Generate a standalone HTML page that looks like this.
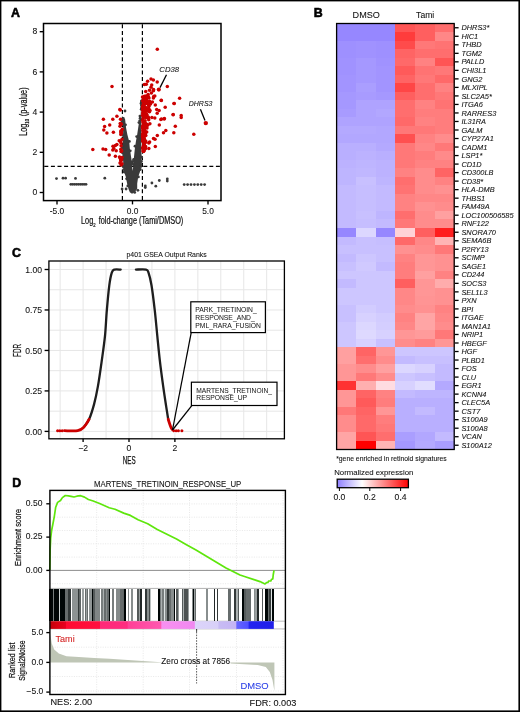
<!DOCTYPE html>
<html><head><meta charset="utf-8"><title>Figure</title>
<style>html,body{margin:0;padding:0;background:#fff;}svg{display:block;filter:blur(0.3px);font-family:"Liberation Sans",sans-serif;}</style>
</head><body>
<svg width="520" height="712" viewBox="0 0 520 712" font-family="Liberation Sans"><rect x="0" y="0" width="520" height="712" fill="#fff"/>
<text x="11.10" y="16.90" font-size="12.4" font-weight="bold" stroke="#000" stroke-width="0.55">A</text>
<g stroke="#000" stroke-width="1.2" stroke-dasharray="4 2.6" fill="none">
<line x1="122.4" y1="24.3" x2="122.4" y2="200"/>
<line x1="142.4" y1="24.3" x2="142.4" y2="200"/>
<line x1="44.3" y1="166.4" x2="220.2" y2="166.4"/>
</g>
<polygon fill="#3a3a3a" points="121.4,119.2 123.2,128 123.1,134.7 122.7,141.5 122.4,148.2 122.4,154.9 123.2,161.6 123.1,166.7 124.1,172.1 125.8,176.8 127.1,183.6 128.5,188.9 129.8,192.3 132,193.8 134.5,192.3 137.2,188.9 137.2,183.6 138.2,176.8 139.9,172.1 140.9,166.7 141.6,161.6 141.6,154.9 140.9,148.2 141.2,141.5 141.2,134.7 140.9,128 141.2,122 141.5,110 142,101 141.3,101 140.7,114 138.9,123 137.2,134.6 135.9,141.5 134.9,148.2 134.2,154.9 133.5,161.6 133.2,166.7 132.6,171 132.2,166.7 131.8,161.6 130.8,154.9 129.8,148.2 129.2,141.5 127.4,134.7 126.1,128 125.1,119.2 123,118"/>
<g fill="#3a3a3a"><circle cx="121.1" cy="119.3" r="1.4"/><circle cx="122.0" cy="122.0" r="1.4"/><circle cx="122.6" cy="124.7" r="1.4"/><circle cx="122.8" cy="130.2" r="1.4"/><circle cx="122.9" cy="134.8" r="1.4"/><circle cx="122.8" cy="145.8" r="1.4"/><circle cx="122.1" cy="148.0" r="1.4"/><circle cx="122.5" cy="152.8" r="1.4"/><circle cx="122.6" cy="159.1" r="1.4"/><circle cx="123.2" cy="166.7" r="1.4"/><circle cx="123.8" cy="169.6" r="1.4"/><circle cx="124.2" cy="172.1" r="1.4"/><circle cx="126.6" cy="178.8" r="1.4"/><circle cx="127.8" cy="185.9" r="1.4"/><circle cx="134.7" cy="192.4" r="1.4"/><circle cx="138.4" cy="176.9" r="1.4"/><circle cx="140.3" cy="169.5" r="1.4"/><circle cx="140.9" cy="166.4" r="1.4"/><circle cx="140.9" cy="164.4" r="1.4"/><circle cx="141.4" cy="161.5" r="1.4"/><circle cx="141.6" cy="157.2" r="1.4"/><circle cx="140.8" cy="148.1" r="1.4"/><circle cx="140.9" cy="141.3" r="1.4"/><circle cx="141.2" cy="139.3" r="1.4"/><circle cx="140.8" cy="136.9" r="1.4"/><circle cx="141.6" cy="119.8" r="1.4"/><circle cx="141.7" cy="107.4" r="1.4"/><circle cx="141.5" cy="105.2" r="1.4"/><circle cx="141.5" cy="102.9" r="1.4"/><circle cx="141.7" cy="100.9" r="1.4"/><circle cx="141.6" cy="101.1" r="1.4"/><circle cx="141.0" cy="103.5" r="1.4"/><circle cx="141.2" cy="109.2" r="1.4"/><circle cx="139.9" cy="116.1" r="1.4"/><circle cx="140.1" cy="118.2" r="1.4"/><circle cx="139.7" cy="120.8" r="1.4"/><circle cx="138.9" cy="122.6" r="1.4"/><circle cx="136.7" cy="136.6" r="1.4"/><circle cx="135.0" cy="146.2" r="1.4"/><circle cx="133.7" cy="159.3" r="1.4"/><circle cx="133.1" cy="161.4" r="1.4"/><circle cx="133.5" cy="164.5" r="1.4"/><circle cx="131.8" cy="163.9" r="1.4"/><circle cx="131.9" cy="161.9" r="1.4"/><circle cx="130.3" cy="150.8" r="1.4"/><circle cx="129.4" cy="141.4" r="1.4"/><circle cx="125.5" cy="124.8" r="1.4"/><circle cx="123.3" cy="118.4" r="1.4"/><circle cx="56.5" cy="178.6" r="1.4"/><circle cx="63.0" cy="178.2" r="1.4"/><circle cx="65.6" cy="178.2" r="1.4"/><circle cx="75.5" cy="178.4" r="1.4"/><circle cx="104.8" cy="178.2" r="1.4"/><circle cx="145.3" cy="185.9" r="1.4"/><circle cx="145.3" cy="187.6" r="1.4"/><circle cx="151.9" cy="183.0" r="1.4"/><circle cx="155.8" cy="186.2" r="1.4"/><circle cx="159.3" cy="180.5" r="1.4"/><circle cx="167.3" cy="178.9" r="1.4"/><circle cx="167.3" cy="181.1" r="1.4"/><circle cx="125.0" cy="111.0" r="1.4"/><circle cx="141.8" cy="101.7" r="1.4"/><circle cx="142.0" cy="106.5" r="1.4"/><circle cx="122.1" cy="189.0" r="1.4"/><circle cx="126.1" cy="189.0" r="1.4"/><circle cx="137.9" cy="190.3" r="1.4"/><circle cx="70.8" cy="184.3" r="1.4"/><circle cx="72.7" cy="184.3" r="1.4"/><circle cx="74.6" cy="184.3" r="1.4"/><circle cx="76.5" cy="184.3" r="1.4"/><circle cx="78.4" cy="184.3" r="1.4"/><circle cx="80.3" cy="184.3" r="1.4"/><circle cx="82.2" cy="184.3" r="1.4"/><circle cx="84.1" cy="184.3" r="1.4"/><circle cx="86.0" cy="184.3" r="1.4"/><circle cx="184.2" cy="184.6" r="1.4"/><circle cx="187.6" cy="184.6" r="1.4"/><circle cx="191.0" cy="184.6" r="1.4"/><circle cx="194.4" cy="184.6" r="1.4"/><circle cx="197.8" cy="184.6" r="1.4"/><circle cx="201.2" cy="184.6" r="1.4"/><circle cx="204.6" cy="184.6" r="1.4"/></g>
<g fill="#cc0000"><circle cx="120.3" cy="110.0" r="1.75"/><circle cx="116.9" cy="116.2" r="1.75"/><circle cx="112.8" cy="119.2" r="1.75"/><circle cx="103.4" cy="119.2" r="1.75"/><circle cx="109.7" cy="125.1" r="1.75"/><circle cx="104.6" cy="126.5" r="1.75"/><circle cx="103.8" cy="130.0" r="1.75"/><circle cx="106.9" cy="133.0" r="1.75"/><circle cx="113.4" cy="132.3" r="1.75"/><circle cx="120.8" cy="123.8" r="1.75"/><circle cx="120.0" cy="126.2" r="1.75"/><circle cx="122.3" cy="129.2" r="1.75"/><circle cx="120.8" cy="134.6" r="1.75"/><circle cx="121.5" cy="133.0" r="1.75"/><circle cx="120.5" cy="141.5" r="1.75"/><circle cx="121.0" cy="143.0" r="1.75"/><circle cx="92.8" cy="149.5" r="1.75"/><circle cx="103.0" cy="149.0" r="1.75"/><circle cx="105.7" cy="149.5" r="1.75"/><circle cx="113.0" cy="146.2" r="1.75"/><circle cx="115.4" cy="145.4" r="1.75"/><circle cx="116.9" cy="144.6" r="1.75"/><circle cx="113.8" cy="148.5" r="1.75"/><circle cx="112.8" cy="150.0" r="1.75"/><circle cx="116.2" cy="150.8" r="1.75"/><circle cx="120.8" cy="149.2" r="1.75"/><circle cx="121.0" cy="151.5" r="1.75"/><circle cx="109.2" cy="155.0" r="1.75"/><circle cx="115.4" cy="156.2" r="1.75"/><circle cx="119.5" cy="157.0" r="1.75"/><circle cx="121.5" cy="159.2" r="1.75"/><circle cx="120.0" cy="163.0" r="1.75"/><circle cx="122.0" cy="163.8" r="1.75"/><circle cx="120.8" cy="160.8" r="1.75"/><circle cx="112.0" cy="86.5" r="1.75"/><circle cx="119.8" cy="109.6" r="1.75"/><circle cx="157.3" cy="49.2" r="1.75"/><circle cx="147.6" cy="81.3" r="1.75"/><circle cx="151.0" cy="79.1" r="1.75"/><circle cx="153.4" cy="80.1" r="1.75"/><circle cx="157.2" cy="82.0" r="1.75"/><circle cx="167.3" cy="86.5" r="1.75"/><circle cx="151.7" cy="84.9" r="1.75"/><circle cx="151.0" cy="87.3" r="1.75"/><circle cx="149.5" cy="90.2" r="1.75"/><circle cx="153.4" cy="90.7" r="1.75"/><circle cx="148.1" cy="94.5" r="1.75"/><circle cx="151.4" cy="93.1" r="1.75"/><circle cx="154.8" cy="96.0" r="1.75"/><circle cx="153.4" cy="97.9" r="1.75"/><circle cx="149.0" cy="97.9" r="1.75"/><circle cx="143.5" cy="99.0" r="1.75"/><circle cx="149.5" cy="101.2" r="1.75"/><circle cx="147.1" cy="101.7" r="1.75"/><circle cx="161.3" cy="100.6" r="1.75"/><circle cx="174.0" cy="103.5" r="1.75"/><circle cx="165.2" cy="107.3" r="1.75"/><circle cx="155.3" cy="105.1" r="1.75"/><circle cx="150.5" cy="104.1" r="1.75"/><circle cx="144.2" cy="105.1" r="1.75"/><circle cx="145.7" cy="107.5" r="1.75"/><circle cx="148.6" cy="108.9" r="1.75"/><circle cx="156.7" cy="109.4" r="1.75"/><circle cx="159.1" cy="110.4" r="1.75"/><circle cx="157.2" cy="113.3" r="1.75"/><circle cx="149.5" cy="111.8" r="1.75"/><circle cx="144.2" cy="110.4" r="1.75"/><circle cx="143.3" cy="113.3" r="1.75"/><circle cx="146.6" cy="114.2" r="1.75"/><circle cx="173.1" cy="114.7" r="1.75"/><circle cx="144.2" cy="117.1" r="1.75"/><circle cx="148.1" cy="117.1" r="1.75"/><circle cx="151.9" cy="117.6" r="1.75"/><circle cx="154.8" cy="118.1" r="1.75"/><circle cx="161.5" cy="119.0" r="1.75"/><circle cx="164.4" cy="118.6" r="1.75"/><circle cx="179.6" cy="98.2" r="1.75"/><circle cx="161.2" cy="100.3" r="1.75"/><circle cx="174.2" cy="103.4" r="1.75"/><circle cx="181.2" cy="115.4" r="1.75"/><circle cx="181.2" cy="117.4" r="1.75"/><circle cx="173.2" cy="114.6" r="1.75"/><circle cx="193.8" cy="134.2" r="1.75"/><circle cx="175.3" cy="126.2" r="1.75"/><circle cx="173.8" cy="132.8" r="1.75"/><circle cx="165.8" cy="130.5" r="1.75"/><circle cx="163.5" cy="132.8" r="1.75"/><circle cx="159.3" cy="125.1" r="1.75"/><circle cx="160.8" cy="119.5" r="1.75"/><circle cx="164.2" cy="118.9" r="1.75"/><circle cx="157.3" cy="135.4" r="1.75"/><circle cx="153.5" cy="138.5" r="1.75"/><circle cx="155.0" cy="139.2" r="1.75"/><circle cx="149.6" cy="142.0" r="1.75"/><circle cx="148.8" cy="143.0" r="1.75"/><circle cx="155.3" cy="146.6" r="1.75"/><circle cx="148.8" cy="148.5" r="1.75"/><circle cx="143.5" cy="147.0" r="1.75"/><circle cx="143.5" cy="150.0" r="1.75"/><circle cx="144.2" cy="132.8" r="1.75"/><circle cx="146.3" cy="103.3" r="1.75"/><circle cx="148.3" cy="96.8" r="1.75"/><circle cx="143.2" cy="125.5" r="1.75"/><circle cx="145.3" cy="148.3" r="1.75"/><circle cx="144.0" cy="142.3" r="1.75"/><circle cx="142.5" cy="107.8" r="1.75"/><circle cx="145.4" cy="109.5" r="1.75"/><circle cx="142.7" cy="128.8" r="1.75"/><circle cx="146.4" cy="103.3" r="1.75"/><circle cx="143.5" cy="147.0" r="1.75"/><circle cx="144.7" cy="128.7" r="1.75"/><circle cx="145.6" cy="146.6" r="1.75"/><circle cx="145.4" cy="124.1" r="1.75"/><circle cx="143.0" cy="125.8" r="1.75"/><circle cx="142.6" cy="120.6" r="1.75"/><circle cx="148.9" cy="106.3" r="1.75"/><circle cx="142.7" cy="105.7" r="1.75"/><circle cx="143.0" cy="122.5" r="1.75"/><circle cx="146.5" cy="114.3" r="1.75"/><circle cx="146.9" cy="125.0" r="1.75"/><circle cx="144.8" cy="101.9" r="1.75"/><circle cx="142.5" cy="127.4" r="1.75"/><circle cx="144.1" cy="139.2" r="1.75"/><circle cx="146.7" cy="124.4" r="1.75"/><circle cx="143.5" cy="147.1" r="1.75"/><circle cx="145.1" cy="120.8" r="1.75"/><circle cx="144.6" cy="124.7" r="1.75"/><circle cx="145.0" cy="134.8" r="1.75"/><circle cx="143.5" cy="122.8" r="1.75"/><circle cx="143.4" cy="148.7" r="1.75"/><circle cx="145.3" cy="148.8" r="1.75"/><circle cx="150.0" cy="110.5" r="1.75"/><circle cx="144.0" cy="143.0" r="1.75"/><circle cx="145.4" cy="103.7" r="1.75"/><circle cx="145.4" cy="100.1" r="1.75"/><circle cx="147.1" cy="109.5" r="1.75"/><circle cx="143.8" cy="139.9" r="1.75"/><circle cx="143.9" cy="146.2" r="1.75"/><circle cx="145.4" cy="133.0" r="1.75"/><circle cx="149.7" cy="104.0" r="1.75"/><circle cx="148.6" cy="108.3" r="1.75"/><circle cx="143.8" cy="149.3" r="1.75"/><circle cx="143.4" cy="151.4" r="1.75"/><circle cx="143.5" cy="142.6" r="1.75"/><circle cx="144.9" cy="124.9" r="1.75"/><circle cx="143.4" cy="115.0" r="1.75"/><circle cx="144.2" cy="136.4" r="1.75"/><circle cx="146.6" cy="97.1" r="1.75"/><circle cx="144.0" cy="97.0" r="1.75"/><circle cx="145.2" cy="114.6" r="1.75"/><circle cx="145.8" cy="99.6" r="1.75"/><circle cx="143.4" cy="151.2" r="1.75"/><circle cx="152.4" cy="101.9" r="1.75"/><circle cx="148.2" cy="110.9" r="1.75"/><circle cx="143.9" cy="111.1" r="1.75"/><circle cx="149.8" cy="103.3" r="1.75"/><circle cx="144.4" cy="141.9" r="1.75"/><circle cx="147.0" cy="110.5" r="1.75"/><circle cx="147.0" cy="128.0" r="1.75"/><circle cx="143.1" cy="135.2" r="1.75"/><circle cx="142.9" cy="134.5" r="1.75"/><circle cx="148.7" cy="119.8" r="1.75"/><circle cx="144.9" cy="131.5" r="1.75"/><circle cx="145.7" cy="140.9" r="1.75"/><circle cx="146.4" cy="99.7" r="1.75"/><circle cx="144.0" cy="144.3" r="1.75"/><circle cx="143.2" cy="127.0" r="1.75"/><circle cx="142.6" cy="147.9" r="1.75"/><circle cx="143.9" cy="125.5" r="1.75"/><circle cx="144.1" cy="109.4" r="1.75"/><circle cx="144.0" cy="98.8" r="1.75"/><circle cx="143.6" cy="107.3" r="1.75"/><circle cx="144.1" cy="138.5" r="1.75"/><circle cx="144.6" cy="112.2" r="1.75"/><circle cx="142.5" cy="115.4" r="1.75"/><circle cx="142.5" cy="97.0" r="1.75"/><circle cx="142.9" cy="137.1" r="1.75"/><circle cx="143.6" cy="126.9" r="1.75"/><circle cx="144.1" cy="148.3" r="1.75"/><circle cx="144.2" cy="102.0" r="1.75"/><circle cx="145.1" cy="123.7" r="1.75"/><circle cx="144.1" cy="142.7" r="1.75"/><circle cx="144.1" cy="134.5" r="1.75"/><circle cx="143.9" cy="151.0" r="1.75"/><circle cx="145.8" cy="135.6" r="1.75"/><circle cx="144.3" cy="131.6" r="1.75"/><circle cx="144.6" cy="99.0" r="1.75"/><circle cx="148.0" cy="103.3" r="1.75"/><circle cx="144.9" cy="110.3" r="1.75"/><circle cx="148.5" cy="105.1" r="1.75"/><circle cx="144.1" cy="144.8" r="1.75"/><circle cx="142.8" cy="133.6" r="1.75"/><circle cx="144.9" cy="112.4" r="1.75"/><circle cx="144.2" cy="121.7" r="1.75"/><circle cx="145.6" cy="110.7" r="1.75"/><circle cx="144.2" cy="149.9" r="1.75"/><circle cx="143.2" cy="109.7" r="1.75"/><circle cx="143.0" cy="150.1" r="1.75"/><circle cx="146.1" cy="96.1" r="1.75"/><circle cx="146.0" cy="117.4" r="1.75"/><circle cx="143.2" cy="107.3" r="1.75"/><circle cx="144.6" cy="124.3" r="1.75"/><circle cx="142.6" cy="101.0" r="1.75"/><circle cx="143.1" cy="118.4" r="1.75"/><circle cx="142.7" cy="113.0" r="1.75"/><circle cx="146.1" cy="109.0" r="1.75"/><circle cx="143.8" cy="138.0" r="1.75"/><circle cx="143.5" cy="132.8" r="1.75"/><circle cx="148.5" cy="117.8" r="1.75"/><circle cx="144.3" cy="114.3" r="1.75"/><circle cx="142.6" cy="136.6" r="1.75"/><circle cx="146.7" cy="132.0" r="1.75"/><circle cx="143.3" cy="145.9" r="1.75"/><circle cx="142.9" cy="131.1" r="1.75"/><circle cx="149.3" cy="103.8" r="1.75"/><circle cx="147.5" cy="125.3" r="1.75"/><circle cx="142.6" cy="141.1" r="1.75"/><circle cx="145.8" cy="142.3" r="1.75"/><circle cx="144.8" cy="134.2" r="1.75"/><circle cx="142.6" cy="134.8" r="1.75"/><circle cx="143.4" cy="103.5" r="1.75"/><circle cx="147.1" cy="116.2" r="1.75"/><circle cx="145.5" cy="127.3" r="1.75"/><circle cx="145.0" cy="131.2" r="1.75"/><circle cx="145.4" cy="123.4" r="1.75"/><circle cx="144.5" cy="96.2" r="1.75"/><circle cx="146.8" cy="124.2" r="1.75"/><circle cx="143.0" cy="126.0" r="1.75"/><circle cx="143.1" cy="137.3" r="1.75"/><circle cx="144.9" cy="110.1" r="1.75"/><circle cx="143.2" cy="136.8" r="1.75"/><circle cx="143.1" cy="107.5" r="1.75"/><circle cx="149.9" cy="123.7" r="1.75"/><circle cx="147.1" cy="117.4" r="1.75"/><circle cx="142.9" cy="139.0" r="1.75"/><circle cx="143.1" cy="130.6" r="1.75"/><circle cx="143.7" cy="104.3" r="1.75"/><circle cx="142.6" cy="110.2" r="1.75"/><circle cx="144.6" cy="127.8" r="1.75"/><circle cx="146.3" cy="84.3" r="1.75"/><circle cx="144.3" cy="102.8" r="1.75"/><circle cx="144.7" cy="103.4" r="1.75"/><circle cx="146.3" cy="98.5" r="1.75"/><circle cx="145.2" cy="97.0" r="1.75"/><circle cx="143.5" cy="109.0" r="1.75"/><circle cx="153.5" cy="89.6" r="1.75"/><circle cx="144.4" cy="84.5" r="1.75"/><circle cx="148.0" cy="96.9" r="1.75"/><circle cx="153.7" cy="96.6" r="1.75"/><circle cx="145.7" cy="91.5" r="1.75"/><circle cx="153.5" cy="89.9" r="1.75"/><circle cx="146.4" cy="100.3" r="1.75"/><circle cx="147.3" cy="110.7" r="1.75"/><circle cx="121.3" cy="124.2" r="1.75"/><circle cx="120.6" cy="159.7" r="1.75"/><circle cx="121.7" cy="151.1" r="1.75"/><circle cx="119.2" cy="140.8" r="1.75"/><circle cx="120.5" cy="119.2" r="1.75"/><circle cx="122.0" cy="139.2" r="1.75"/><circle cx="121.2" cy="132.2" r="1.75"/><circle cx="121.1" cy="132.9" r="1.75"/><circle cx="119.8" cy="157.5" r="1.75"/><circle cx="122.0" cy="157.4" r="1.75"/><circle cx="120.2" cy="123.6" r="1.75"/><circle cx="121.1" cy="160.4" r="1.75"/><circle cx="121.1" cy="131.6" r="1.75"/><circle cx="121.1" cy="164.9" r="1.75"/><circle cx="121.1" cy="145.7" r="1.75"/><circle cx="120.9" cy="130.9" r="1.75"/></g>
<circle cx="158.8" cy="89.6" r="2.1" fill="#cc0000"/>
<circle cx="205.8" cy="123.1" r="2.2" fill="#cc0000"/>
<text x="159.30" y="72.20" font-size="7.8" font-style="italic" fill="#111" stroke="#111" stroke-width="0.08" textLength="19.8" lengthAdjust="spacingAndGlyphs">CD38</text>
<line x1="166.5" y1="74.8" x2="160" y2="87.6" stroke="#000" stroke-width="1.3"/>
<text x="188.80" y="106.20" font-size="7.8" font-style="italic" fill="#111" stroke="#111" stroke-width="0.08" textLength="23.6" lengthAdjust="spacingAndGlyphs">DHRS3</text>
<line x1="200.4" y1="109.3" x2="205" y2="120.4" stroke="#000" stroke-width="1.3"/>
<rect x="43.5" y="23.5" width="177.5" height="177.1" fill="none" stroke="#000" stroke-width="1.5"/>
<line x1="39.7" y1="192.5" x2="43.5" y2="192.5" stroke="#000" stroke-width="1.35"/>
<text x="37.20" y="195.10" font-size="8.6" text-anchor="end" fill="#111" stroke="#111" stroke-width="0.08">0</text>
<line x1="39.7" y1="152.3" x2="43.5" y2="152.3" stroke="#000" stroke-width="1.35"/>
<text x="37.20" y="154.90" font-size="8.6" text-anchor="end" fill="#111" stroke="#111" stroke-width="0.08">2</text>
<line x1="39.7" y1="112.1" x2="43.5" y2="112.1" stroke="#000" stroke-width="1.35"/>
<text x="37.20" y="114.70" font-size="8.6" text-anchor="end" fill="#111" stroke="#111" stroke-width="0.08">4</text>
<line x1="39.7" y1="71.9" x2="43.5" y2="71.9" stroke="#000" stroke-width="1.35"/>
<text x="37.20" y="74.50" font-size="8.6" text-anchor="end" fill="#111" stroke="#111" stroke-width="0.08">6</text>
<line x1="39.7" y1="31.7" x2="43.5" y2="31.7" stroke="#000" stroke-width="1.35"/>
<text x="37.20" y="34.30" font-size="8.6" text-anchor="end" fill="#111" stroke="#111" stroke-width="0.08">8</text>
<line x1="57.0" y1="200.5" x2="57.0" y2="204.4" stroke="#000" stroke-width="1.35"/>
<text x="57.00" y="213.60" font-size="8.4" text-anchor="middle" fill="#111" stroke="#111" stroke-width="0.08">-5.0</text>
<line x1="132.5" y1="200.5" x2="132.5" y2="204.4" stroke="#000" stroke-width="1.35"/>
<text x="132.50" y="213.60" font-size="8.4" text-anchor="middle" fill="#111" stroke="#111" stroke-width="0.08">0.0</text>
<line x1="208.0" y1="200.5" x2="208.0" y2="204.4" stroke="#000" stroke-width="1.35"/>
<text x="208.00" y="213.60" font-size="8.4" text-anchor="middle" fill="#111" stroke="#111" stroke-width="0.08">5.0</text>
<text x="81" y="224.0" font-size="10" fill="#111" stroke="#111" stroke-width="0.22" textLength="102.3" lengthAdjust="spacingAndGlyphs">Log<tspan font-size="5.8" dy="2.6">2</tspan><tspan dy="-2.6" dx="1.5"> fold-change (Tami/DMSO)</tspan></text>
<text transform="translate(26.8,135.8) rotate(-90)" x="0" y="0" font-size="10" fill="#111" stroke="#111" stroke-width="0.22" textLength="48.4" lengthAdjust="spacingAndGlyphs">Log<tspan font-size="5.8" dy="2.2">10</tspan><tspan dy="-2.2" dx="1"> (p-value)</tspan></text>
<text x="313.80" y="17.10" font-size="12.4" font-weight="bold" stroke="#000" stroke-width="0.55">B</text>
<text x="366.20" y="18.20" font-size="8.8" text-anchor="middle" fill="#111" stroke="#111" stroke-width="0.08" textLength="27.2" lengthAdjust="spacingAndGlyphs">DMSO</text>
<text x="425.20" y="18.20" font-size="8.8" text-anchor="middle" fill="#111" stroke="#111" stroke-width="0.08" textLength="18.2" lengthAdjust="spacingAndGlyphs">Tami</text>
<line x1="454.2" y1="27.76" x2="458.59999999999997" y2="27.76" stroke="#000" stroke-width="1.3"/>
<text x="461.40" y="30.41" font-size="7.4" font-style="italic" fill="#111" stroke="#111" stroke-width="0.08">DHRS3*</text>
<line x1="454.2" y1="36.28" x2="458.59999999999997" y2="36.28" stroke="#000" stroke-width="1.3"/>
<text x="461.40" y="38.93" font-size="7.4" font-style="italic" fill="#111" stroke="#111" stroke-width="0.08">HIC1</text>
<line x1="454.2" y1="44.80" x2="458.59999999999997" y2="44.80" stroke="#000" stroke-width="1.3"/>
<text x="461.40" y="47.45" font-size="7.4" font-style="italic" fill="#111" stroke="#111" stroke-width="0.08">THBD</text>
<line x1="454.2" y1="53.32" x2="458.59999999999997" y2="53.32" stroke="#000" stroke-width="1.3"/>
<text x="461.40" y="55.97" font-size="7.4" font-style="italic" fill="#111" stroke="#111" stroke-width="0.08">TGM2</text>
<line x1="454.2" y1="61.84" x2="458.59999999999997" y2="61.84" stroke="#000" stroke-width="1.3"/>
<text x="461.40" y="64.49" font-size="7.4" font-style="italic" fill="#111" stroke="#111" stroke-width="0.08">PALLD</text>
<line x1="454.2" y1="70.36" x2="458.59999999999997" y2="70.36" stroke="#000" stroke-width="1.3"/>
<text x="461.40" y="73.01" font-size="7.4" font-style="italic" fill="#111" stroke="#111" stroke-width="0.08">CHI3L1</text>
<line x1="454.2" y1="78.88" x2="458.59999999999997" y2="78.88" stroke="#000" stroke-width="1.3"/>
<text x="461.40" y="81.53" font-size="7.4" font-style="italic" fill="#111" stroke="#111" stroke-width="0.08">GNG2</text>
<line x1="454.2" y1="87.40" x2="458.59999999999997" y2="87.40" stroke="#000" stroke-width="1.3"/>
<text x="461.40" y="90.05" font-size="7.4" font-style="italic" fill="#111" stroke="#111" stroke-width="0.08">MLXIPL</text>
<line x1="454.2" y1="95.92" x2="458.59999999999997" y2="95.92" stroke="#000" stroke-width="1.3"/>
<text x="461.40" y="98.57" font-size="7.4" font-style="italic" fill="#111" stroke="#111" stroke-width="0.08">SLC2A5*</text>
<line x1="454.2" y1="104.44" x2="458.59999999999997" y2="104.44" stroke="#000" stroke-width="1.3"/>
<text x="461.40" y="107.09" font-size="7.4" font-style="italic" fill="#111" stroke="#111" stroke-width="0.08">ITGA6</text>
<line x1="454.2" y1="112.96" x2="458.59999999999997" y2="112.96" stroke="#000" stroke-width="1.3"/>
<text x="461.40" y="115.61" font-size="7.4" font-style="italic" fill="#111" stroke="#111" stroke-width="0.08">RARRES3</text>
<line x1="454.2" y1="121.48" x2="458.59999999999997" y2="121.48" stroke="#000" stroke-width="1.3"/>
<text x="461.40" y="124.13" font-size="7.4" font-style="italic" fill="#111" stroke="#111" stroke-width="0.08">IL31RA</text>
<line x1="454.2" y1="130.00" x2="458.59999999999997" y2="130.00" stroke="#000" stroke-width="1.3"/>
<text x="461.40" y="132.65" font-size="7.4" font-style="italic" fill="#111" stroke="#111" stroke-width="0.08">GALM</text>
<line x1="454.2" y1="138.52" x2="458.59999999999997" y2="138.52" stroke="#000" stroke-width="1.3"/>
<text x="461.40" y="141.17" font-size="7.4" font-style="italic" fill="#111" stroke="#111" stroke-width="0.08">CYP27A1</text>
<line x1="454.2" y1="147.04" x2="458.59999999999997" y2="147.04" stroke="#000" stroke-width="1.3"/>
<text x="461.40" y="149.69" font-size="7.4" font-style="italic" fill="#111" stroke="#111" stroke-width="0.08">CADM1</text>
<line x1="454.2" y1="155.56" x2="458.59999999999997" y2="155.56" stroke="#000" stroke-width="1.3"/>
<text x="461.40" y="158.21" font-size="7.4" font-style="italic" fill="#111" stroke="#111" stroke-width="0.08">LSP1*</text>
<line x1="454.2" y1="164.08" x2="458.59999999999997" y2="164.08" stroke="#000" stroke-width="1.3"/>
<text x="461.40" y="166.73" font-size="7.4" font-style="italic" fill="#111" stroke="#111" stroke-width="0.08">CD1D</text>
<line x1="454.2" y1="172.60" x2="458.59999999999997" y2="172.60" stroke="#000" stroke-width="1.3"/>
<text x="461.40" y="175.25" font-size="7.4" font-style="italic" fill="#111" stroke="#111" stroke-width="0.08">CD300LB</text>
<line x1="454.2" y1="181.12" x2="458.59999999999997" y2="181.12" stroke="#000" stroke-width="1.3"/>
<text x="461.40" y="183.77" font-size="7.4" font-style="italic" fill="#111" stroke="#111" stroke-width="0.08">CD38*</text>
<line x1="454.2" y1="189.64" x2="458.59999999999997" y2="189.64" stroke="#000" stroke-width="1.3"/>
<text x="461.40" y="192.29" font-size="7.4" font-style="italic" fill="#111" stroke="#111" stroke-width="0.08">HLA-DMB</text>
<line x1="454.2" y1="198.16" x2="458.59999999999997" y2="198.16" stroke="#000" stroke-width="1.3"/>
<text x="461.40" y="200.81" font-size="7.4" font-style="italic" fill="#111" stroke="#111" stroke-width="0.08">THBS1</text>
<line x1="454.2" y1="206.68" x2="458.59999999999997" y2="206.68" stroke="#000" stroke-width="1.3"/>
<text x="461.40" y="209.33" font-size="7.4" font-style="italic" fill="#111" stroke="#111" stroke-width="0.08">FAM49A</text>
<line x1="454.2" y1="215.20" x2="458.59999999999997" y2="215.20" stroke="#000" stroke-width="1.3"/>
<text x="461.40" y="217.85" font-size="7.4" font-style="italic" fill="#111" stroke="#111" stroke-width="0.08">LOC100506585</text>
<line x1="454.2" y1="223.72" x2="458.59999999999997" y2="223.72" stroke="#000" stroke-width="1.3"/>
<text x="461.40" y="226.37" font-size="7.4" font-style="italic" fill="#111" stroke="#111" stroke-width="0.08">RNF122</text>
<line x1="454.2" y1="232.24" x2="458.59999999999997" y2="232.24" stroke="#000" stroke-width="1.3"/>
<text x="461.40" y="234.89" font-size="7.4" font-style="italic" fill="#111" stroke="#111" stroke-width="0.08">SNORA70</text>
<line x1="454.2" y1="240.76" x2="458.59999999999997" y2="240.76" stroke="#000" stroke-width="1.3"/>
<text x="461.40" y="243.41" font-size="7.4" font-style="italic" fill="#111" stroke="#111" stroke-width="0.08">SEMA6B</text>
<line x1="454.2" y1="249.28" x2="458.59999999999997" y2="249.28" stroke="#000" stroke-width="1.3"/>
<text x="461.40" y="251.93" font-size="7.4" font-style="italic" fill="#111" stroke="#111" stroke-width="0.08">P2RY13</text>
<line x1="454.2" y1="257.80" x2="458.59999999999997" y2="257.80" stroke="#000" stroke-width="1.3"/>
<text x="461.40" y="260.45" font-size="7.4" font-style="italic" fill="#111" stroke="#111" stroke-width="0.08">SCIMP</text>
<line x1="454.2" y1="266.32" x2="458.59999999999997" y2="266.32" stroke="#000" stroke-width="1.3"/>
<text x="461.40" y="268.97" font-size="7.4" font-style="italic" fill="#111" stroke="#111" stroke-width="0.08">SAGE1</text>
<line x1="454.2" y1="274.84" x2="458.59999999999997" y2="274.84" stroke="#000" stroke-width="1.3"/>
<text x="461.40" y="277.49" font-size="7.4" font-style="italic" fill="#111" stroke="#111" stroke-width="0.08">CD244</text>
<line x1="454.2" y1="283.36" x2="458.59999999999997" y2="283.36" stroke="#000" stroke-width="1.3"/>
<text x="461.40" y="286.01" font-size="7.4" font-style="italic" fill="#111" stroke="#111" stroke-width="0.08">SOCS3</text>
<line x1="454.2" y1="291.88" x2="458.59999999999997" y2="291.88" stroke="#000" stroke-width="1.3"/>
<text x="461.40" y="294.53" font-size="7.4" font-style="italic" fill="#111" stroke="#111" stroke-width="0.08">SEL1L3</text>
<line x1="454.2" y1="300.40" x2="458.59999999999997" y2="300.40" stroke="#000" stroke-width="1.3"/>
<text x="461.40" y="303.05" font-size="7.4" font-style="italic" fill="#111" stroke="#111" stroke-width="0.08">PXN</text>
<line x1="454.2" y1="308.92" x2="458.59999999999997" y2="308.92" stroke="#000" stroke-width="1.3"/>
<text x="461.40" y="311.57" font-size="7.4" font-style="italic" fill="#111" stroke="#111" stroke-width="0.08">BPI</text>
<line x1="454.2" y1="317.44" x2="458.59999999999997" y2="317.44" stroke="#000" stroke-width="1.3"/>
<text x="461.40" y="320.09" font-size="7.4" font-style="italic" fill="#111" stroke="#111" stroke-width="0.08">ITGAE</text>
<line x1="454.2" y1="325.96" x2="458.59999999999997" y2="325.96" stroke="#000" stroke-width="1.3"/>
<text x="461.40" y="328.61" font-size="7.4" font-style="italic" fill="#111" stroke="#111" stroke-width="0.08">MAN1A1</text>
<line x1="454.2" y1="334.48" x2="458.59999999999997" y2="334.48" stroke="#000" stroke-width="1.3"/>
<text x="461.40" y="337.13" font-size="7.4" font-style="italic" fill="#111" stroke="#111" stroke-width="0.08">NRIP1</text>
<line x1="454.2" y1="343.00" x2="458.59999999999997" y2="343.00" stroke="#000" stroke-width="1.3"/>
<text x="461.40" y="345.65" font-size="7.4" font-style="italic" fill="#111" stroke="#111" stroke-width="0.08">HBEGF</text>
<line x1="454.2" y1="351.52" x2="458.59999999999997" y2="351.52" stroke="#000" stroke-width="1.3"/>
<text x="461.40" y="354.17" font-size="7.4" font-style="italic" fill="#111" stroke="#111" stroke-width="0.08">HGF</text>
<line x1="454.2" y1="360.04" x2="458.59999999999997" y2="360.04" stroke="#000" stroke-width="1.3"/>
<text x="461.40" y="362.69" font-size="7.4" font-style="italic" fill="#111" stroke="#111" stroke-width="0.08">PLBD1</text>
<line x1="454.2" y1="368.56" x2="458.59999999999997" y2="368.56" stroke="#000" stroke-width="1.3"/>
<text x="461.40" y="371.21" font-size="7.4" font-style="italic" fill="#111" stroke="#111" stroke-width="0.08">FOS</text>
<line x1="454.2" y1="377.08" x2="458.59999999999997" y2="377.08" stroke="#000" stroke-width="1.3"/>
<text x="461.40" y="379.73" font-size="7.4" font-style="italic" fill="#111" stroke="#111" stroke-width="0.08">CLU</text>
<line x1="454.2" y1="385.60" x2="458.59999999999997" y2="385.60" stroke="#000" stroke-width="1.3"/>
<text x="461.40" y="388.25" font-size="7.4" font-style="italic" fill="#111" stroke="#111" stroke-width="0.08">EGR1</text>
<line x1="454.2" y1="394.12" x2="458.59999999999997" y2="394.12" stroke="#000" stroke-width="1.3"/>
<text x="461.40" y="396.77" font-size="7.4" font-style="italic" fill="#111" stroke="#111" stroke-width="0.08">KCNN4</text>
<line x1="454.2" y1="402.64" x2="458.59999999999997" y2="402.64" stroke="#000" stroke-width="1.3"/>
<text x="461.40" y="405.29" font-size="7.4" font-style="italic" fill="#111" stroke="#111" stroke-width="0.08">CLEC5A</text>
<line x1="454.2" y1="411.16" x2="458.59999999999997" y2="411.16" stroke="#000" stroke-width="1.3"/>
<text x="461.40" y="413.81" font-size="7.4" font-style="italic" fill="#111" stroke="#111" stroke-width="0.08">CST7</text>
<line x1="454.2" y1="419.68" x2="458.59999999999997" y2="419.68" stroke="#000" stroke-width="1.3"/>
<text x="461.40" y="422.33" font-size="7.4" font-style="italic" fill="#111" stroke="#111" stroke-width="0.08">S100A9</text>
<line x1="454.2" y1="428.20" x2="458.59999999999997" y2="428.20" stroke="#000" stroke-width="1.3"/>
<text x="461.40" y="430.85" font-size="7.4" font-style="italic" fill="#111" stroke="#111" stroke-width="0.08">S100A8</text>
<line x1="454.2" y1="436.72" x2="458.59999999999997" y2="436.72" stroke="#000" stroke-width="1.3"/>
<text x="461.40" y="439.37" font-size="7.4" font-style="italic" fill="#111" stroke="#111" stroke-width="0.08">VCAN</text>
<line x1="454.2" y1="445.24" x2="458.59999999999997" y2="445.24" stroke="#000" stroke-width="1.3"/>
<text x="461.40" y="447.89" font-size="7.4" font-style="italic" fill="#111" stroke="#111" stroke-width="0.08">S100A12</text>
<g shape-rendering="crispEdges"><rect x="336.60" y="23.50" width="19.90" height="8.82" fill="rgb(150,135,255)"/><rect x="356.20" y="23.50" width="19.90" height="8.82" fill="rgb(150,135,255)"/><rect x="375.80" y="23.50" width="19.90" height="8.82" fill="rgb(150,135,255)"/><rect x="395.40" y="23.50" width="19.90" height="8.82" fill="rgb(255,85,85)"/><rect x="415.00" y="23.50" width="19.90" height="8.82" fill="rgb(255,95,95)"/><rect x="434.60" y="23.50" width="19.90" height="8.82" fill="rgb(255,110,110)"/><rect x="336.60" y="32.02" width="19.90" height="8.82" fill="rgb(150,135,255)"/><rect x="356.20" y="32.02" width="19.90" height="8.82" fill="rgb(150,135,255)"/><rect x="375.80" y="32.02" width="19.90" height="8.82" fill="rgb(150,135,255)"/><rect x="395.40" y="32.02" width="19.90" height="8.82" fill="rgb(255,60,60)"/><rect x="415.00" y="32.02" width="19.90" height="8.82" fill="rgb(255,95,95)"/><rect x="434.60" y="32.02" width="19.90" height="8.82" fill="rgb(255,135,135)"/><rect x="336.60" y="40.54" width="19.90" height="8.82" fill="rgb(158,144,255)"/><rect x="356.20" y="40.54" width="19.90" height="8.82" fill="rgb(160,146,255)"/><rect x="375.80" y="40.54" width="19.90" height="8.82" fill="rgb(158,144,255)"/><rect x="395.40" y="40.54" width="19.90" height="8.82" fill="rgb(255,75,75)"/><rect x="415.00" y="40.54" width="19.90" height="8.82" fill="rgb(255,120,120)"/><rect x="434.60" y="40.54" width="19.90" height="8.82" fill="rgb(255,115,115)"/><rect x="336.60" y="49.06" width="19.90" height="8.82" fill="rgb(158,144,255)"/><rect x="356.20" y="49.06" width="19.90" height="8.82" fill="rgb(160,146,255)"/><rect x="375.80" y="49.06" width="19.90" height="8.82" fill="rgb(158,144,255)"/><rect x="395.40" y="49.06" width="19.90" height="8.82" fill="rgb(255,100,100)"/><rect x="415.00" y="49.06" width="19.90" height="8.82" fill="rgb(255,110,110)"/><rect x="434.60" y="49.06" width="19.90" height="8.82" fill="rgb(255,110,110)"/><rect x="336.60" y="57.58" width="19.90" height="8.82" fill="rgb(160,146,255)"/><rect x="356.20" y="57.58" width="19.90" height="8.82" fill="rgb(165,152,255)"/><rect x="375.80" y="57.58" width="19.90" height="8.82" fill="rgb(160,146,255)"/><rect x="395.40" y="57.58" width="19.90" height="8.82" fill="rgb(255,105,105)"/><rect x="415.00" y="57.58" width="19.90" height="8.82" fill="rgb(255,130,130)"/><rect x="434.60" y="57.58" width="19.90" height="8.82" fill="rgb(255,85,85)"/><rect x="336.60" y="66.10" width="19.90" height="8.82" fill="rgb(160,146,255)"/><rect x="356.20" y="66.10" width="19.90" height="8.82" fill="rgb(165,152,255)"/><rect x="375.80" y="66.10" width="19.90" height="8.82" fill="rgb(162,148,255)"/><rect x="395.40" y="66.10" width="19.90" height="8.82" fill="rgb(255,90,90)"/><rect x="415.00" y="66.10" width="19.90" height="8.82" fill="rgb(255,115,115)"/><rect x="434.60" y="66.10" width="19.90" height="8.82" fill="rgb(255,120,120)"/><rect x="336.60" y="74.62" width="19.90" height="8.82" fill="rgb(162,148,255)"/><rect x="356.20" y="74.62" width="19.90" height="8.82" fill="rgb(165,152,255)"/><rect x="375.80" y="74.62" width="19.90" height="8.82" fill="rgb(162,148,255)"/><rect x="395.40" y="74.62" width="19.90" height="8.82" fill="rgb(255,100,100)"/><rect x="415.00" y="74.62" width="19.90" height="8.82" fill="rgb(255,120,120)"/><rect x="434.60" y="74.62" width="19.90" height="8.82" fill="rgb(255,105,105)"/><rect x="336.60" y="83.14" width="19.90" height="8.82" fill="rgb(162,148,255)"/><rect x="356.20" y="83.14" width="19.90" height="8.82" fill="rgb(170,158,255)"/><rect x="375.80" y="83.14" width="19.90" height="8.82" fill="rgb(162,148,255)"/><rect x="395.40" y="83.14" width="19.90" height="8.82" fill="rgb(255,70,70)"/><rect x="415.00" y="83.14" width="19.90" height="8.82" fill="rgb(255,110,110)"/><rect x="434.60" y="83.14" width="19.90" height="8.82" fill="rgb(255,130,130)"/><rect x="336.60" y="91.66" width="19.90" height="8.82" fill="rgb(165,152,255)"/><rect x="356.20" y="91.66" width="19.90" height="8.82" fill="rgb(168,155,255)"/><rect x="375.80" y="91.66" width="19.90" height="8.82" fill="rgb(165,152,255)"/><rect x="395.40" y="91.66" width="19.90" height="8.82" fill="rgb(255,95,95)"/><rect x="415.00" y="91.66" width="19.90" height="8.82" fill="rgb(255,110,110)"/><rect x="434.60" y="91.66" width="19.90" height="8.82" fill="rgb(255,120,120)"/><rect x="336.60" y="100.18" width="19.90" height="8.82" fill="rgb(165,152,255)"/><rect x="356.20" y="100.18" width="19.90" height="8.82" fill="rgb(175,163,255)"/><rect x="375.80" y="100.18" width="19.90" height="8.82" fill="rgb(175,163,255)"/><rect x="395.40" y="100.18" width="19.90" height="8.82" fill="rgb(255,110,110)"/><rect x="415.00" y="100.18" width="19.90" height="8.82" fill="rgb(255,130,130)"/><rect x="434.60" y="100.18" width="19.90" height="8.82" fill="rgb(255,115,115)"/><rect x="336.60" y="108.70" width="19.90" height="8.82" fill="rgb(168,155,255)"/><rect x="356.20" y="108.70" width="19.90" height="8.82" fill="rgb(175,163,255)"/><rect x="375.80" y="108.70" width="19.90" height="8.82" fill="rgb(178,167,255)"/><rect x="395.40" y="108.70" width="19.90" height="8.82" fill="rgb(255,110,110)"/><rect x="415.00" y="108.70" width="19.90" height="8.82" fill="rgb(255,125,125)"/><rect x="434.60" y="108.70" width="19.90" height="8.82" fill="rgb(255,125,125)"/><rect x="336.60" y="117.22" width="19.90" height="8.82" fill="rgb(175,163,255)"/><rect x="356.20" y="117.22" width="19.90" height="8.82" fill="rgb(175,163,255)"/><rect x="375.80" y="117.22" width="19.90" height="8.82" fill="rgb(175,163,255)"/><rect x="395.40" y="117.22" width="19.90" height="8.82" fill="rgb(255,105,105)"/><rect x="415.00" y="117.22" width="19.90" height="8.82" fill="rgb(255,130,130)"/><rect x="434.60" y="117.22" width="19.90" height="8.82" fill="rgb(255,125,125)"/><rect x="336.60" y="125.74" width="19.90" height="8.82" fill="rgb(180,169,255)"/><rect x="356.20" y="125.74" width="19.90" height="8.82" fill="rgb(180,169,255)"/><rect x="375.80" y="125.74" width="19.90" height="8.82" fill="rgb(178,167,255)"/><rect x="395.40" y="125.74" width="19.90" height="8.82" fill="rgb(255,120,120)"/><rect x="415.00" y="125.74" width="19.90" height="8.82" fill="rgb(255,120,120)"/><rect x="434.60" y="125.74" width="19.90" height="8.82" fill="rgb(255,125,125)"/><rect x="336.60" y="134.26" width="19.90" height="8.82" fill="rgb(178,167,255)"/><rect x="356.20" y="134.26" width="19.90" height="8.82" fill="rgb(178,167,255)"/><rect x="375.80" y="134.26" width="19.90" height="8.82" fill="rgb(178,167,255)"/><rect x="395.40" y="134.26" width="19.90" height="8.82" fill="rgb(255,80,80)"/><rect x="415.00" y="134.26" width="19.90" height="8.82" fill="rgb(255,130,130)"/><rect x="434.60" y="134.26" width="19.90" height="8.82" fill="rgb(255,140,140)"/><rect x="336.60" y="142.78" width="19.90" height="8.82" fill="rgb(185,175,255)"/><rect x="356.20" y="142.78" width="19.90" height="8.82" fill="rgb(185,175,255)"/><rect x="375.80" y="142.78" width="19.90" height="8.82" fill="rgb(180,169,255)"/><rect x="395.40" y="142.78" width="19.90" height="8.82" fill="rgb(255,120,120)"/><rect x="415.00" y="142.78" width="19.90" height="8.82" fill="rgb(255,135,135)"/><rect x="434.60" y="142.78" width="19.90" height="8.82" fill="rgb(255,120,120)"/><rect x="336.60" y="151.30" width="19.90" height="8.82" fill="rgb(185,175,255)"/><rect x="356.20" y="151.30" width="19.90" height="8.82" fill="rgb(188,178,255)"/><rect x="375.80" y="151.30" width="19.90" height="8.82" fill="rgb(185,175,255)"/><rect x="395.40" y="151.30" width="19.90" height="8.82" fill="rgb(255,120,120)"/><rect x="415.00" y="151.30" width="19.90" height="8.82" fill="rgb(255,125,125)"/><rect x="434.60" y="151.30" width="19.90" height="8.82" fill="rgb(255,138,138)"/><rect x="336.60" y="159.82" width="19.90" height="8.82" fill="rgb(188,178,255)"/><rect x="356.20" y="159.82" width="19.90" height="8.82" fill="rgb(190,181,255)"/><rect x="375.80" y="159.82" width="19.90" height="8.82" fill="rgb(188,178,255)"/><rect x="395.40" y="159.82" width="19.90" height="8.82" fill="rgb(255,120,120)"/><rect x="415.00" y="159.82" width="19.90" height="8.82" fill="rgb(255,130,130)"/><rect x="434.60" y="159.82" width="19.90" height="8.82" fill="rgb(255,130,130)"/><rect x="336.60" y="168.34" width="19.90" height="8.82" fill="rgb(190,181,255)"/><rect x="356.20" y="168.34" width="19.90" height="8.82" fill="rgb(192,183,255)"/><rect x="375.80" y="168.34" width="19.90" height="8.82" fill="rgb(188,178,255)"/><rect x="395.40" y="168.34" width="19.90" height="8.82" fill="rgb(255,130,130)"/><rect x="415.00" y="168.34" width="19.90" height="8.82" fill="rgb(255,140,140)"/><rect x="434.60" y="168.34" width="19.90" height="8.82" fill="rgb(255,100,100)"/><rect x="336.60" y="176.86" width="19.90" height="8.82" fill="rgb(190,181,255)"/><rect x="356.20" y="176.86" width="19.90" height="8.82" fill="rgb(200,192,255)"/><rect x="375.80" y="176.86" width="19.90" height="8.82" fill="rgb(190,181,255)"/><rect x="395.40" y="176.86" width="19.90" height="8.82" fill="rgb(255,110,110)"/><rect x="415.00" y="176.86" width="19.90" height="8.82" fill="rgb(255,140,140)"/><rect x="434.60" y="176.86" width="19.90" height="8.82" fill="rgb(255,130,130)"/><rect x="336.60" y="185.38" width="19.90" height="8.82" fill="rgb(195,186,255)"/><rect x="356.20" y="185.38" width="19.90" height="8.82" fill="rgb(198,190,255)"/><rect x="375.80" y="185.38" width="19.90" height="8.82" fill="rgb(195,186,255)"/><rect x="395.40" y="185.38" width="19.90" height="8.82" fill="rgb(255,115,115)"/><rect x="415.00" y="185.38" width="19.90" height="8.82" fill="rgb(255,140,140)"/><rect x="434.60" y="185.38" width="19.90" height="8.82" fill="rgb(255,145,145)"/><rect x="336.60" y="193.90" width="19.90" height="8.82" fill="rgb(195,186,255)"/><rect x="356.20" y="193.90" width="19.90" height="8.82" fill="rgb(198,190,255)"/><rect x="375.80" y="193.90" width="19.90" height="8.82" fill="rgb(195,186,255)"/><rect x="395.40" y="193.90" width="19.90" height="8.82" fill="rgb(255,130,130)"/><rect x="415.00" y="193.90" width="19.90" height="8.82" fill="rgb(255,135,135)"/><rect x="434.60" y="193.90" width="19.90" height="8.82" fill="rgb(255,135,135)"/><rect x="336.60" y="202.42" width="19.90" height="8.82" fill="rgb(195,186,255)"/><rect x="356.20" y="202.42" width="19.90" height="8.82" fill="rgb(198,190,255)"/><rect x="375.80" y="202.42" width="19.90" height="8.82" fill="rgb(195,186,255)"/><rect x="395.40" y="202.42" width="19.90" height="8.82" fill="rgb(255,130,130)"/><rect x="415.00" y="202.42" width="19.90" height="8.82" fill="rgb(255,145,145)"/><rect x="434.60" y="202.42" width="19.90" height="8.82" fill="rgb(255,140,140)"/><rect x="336.60" y="210.94" width="19.90" height="8.82" fill="rgb(195,186,255)"/><rect x="356.20" y="210.94" width="19.90" height="8.82" fill="rgb(200,192,255)"/><rect x="375.80" y="210.94" width="19.90" height="8.82" fill="rgb(190,181,255)"/><rect x="395.40" y="210.94" width="19.90" height="8.82" fill="rgb(255,110,110)"/><rect x="415.00" y="210.94" width="19.90" height="8.82" fill="rgb(255,140,140)"/><rect x="434.60" y="210.94" width="19.90" height="8.82" fill="rgb(255,160,160)"/><rect x="336.60" y="219.46" width="19.90" height="8.82" fill="rgb(195,186,255)"/><rect x="356.20" y="219.46" width="19.90" height="8.82" fill="rgb(198,190,255)"/><rect x="375.80" y="219.46" width="19.90" height="8.82" fill="rgb(195,186,255)"/><rect x="395.40" y="219.46" width="19.90" height="8.82" fill="rgb(255,120,120)"/><rect x="415.00" y="219.46" width="19.90" height="8.82" fill="rgb(255,140,140)"/><rect x="434.60" y="219.46" width="19.90" height="8.82" fill="rgb(255,140,140)"/><rect x="336.60" y="227.98" width="19.90" height="8.82" fill="rgb(150,135,255)"/><rect x="356.20" y="227.98" width="19.90" height="8.82" fill="rgb(220,215,255)"/><rect x="375.80" y="227.98" width="19.90" height="8.82" fill="rgb(150,135,255)"/><rect x="395.40" y="227.98" width="19.90" height="8.82" fill="rgb(255,210,215)"/><rect x="415.00" y="227.98" width="19.90" height="8.82" fill="rgb(255,95,95)"/><rect x="434.60" y="227.98" width="19.90" height="8.82" fill="rgb(255,30,30)"/><rect x="336.60" y="236.50" width="19.90" height="8.82" fill="rgb(195,186,255)"/><rect x="356.20" y="236.50" width="19.90" height="8.82" fill="rgb(200,192,255)"/><rect x="375.80" y="236.50" width="19.90" height="8.82" fill="rgb(198,190,255)"/><rect x="395.40" y="236.50" width="19.90" height="8.82" fill="rgb(255,105,105)"/><rect x="415.00" y="236.50" width="19.90" height="8.82" fill="rgb(255,135,135)"/><rect x="434.60" y="236.50" width="19.90" height="8.82" fill="rgb(255,180,180)"/><rect x="336.60" y="245.02" width="19.90" height="8.82" fill="rgb(200,192,255)"/><rect x="356.20" y="245.02" width="19.90" height="8.82" fill="rgb(200,192,255)"/><rect x="375.80" y="245.02" width="19.90" height="8.82" fill="rgb(200,192,255)"/><rect x="395.40" y="245.02" width="19.90" height="8.82" fill="rgb(255,145,145)"/><rect x="415.00" y="245.02" width="19.90" height="8.82" fill="rgb(255,140,140)"/><rect x="434.60" y="245.02" width="19.90" height="8.82" fill="rgb(255,120,120)"/><rect x="336.60" y="253.54" width="19.90" height="8.82" fill="rgb(195,186,255)"/><rect x="356.20" y="253.54" width="19.90" height="8.82" fill="rgb(205,198,255)"/><rect x="375.80" y="253.54" width="19.90" height="8.82" fill="rgb(200,192,255)"/><rect x="395.40" y="253.54" width="19.90" height="8.82" fill="rgb(255,130,130)"/><rect x="415.00" y="253.54" width="19.90" height="8.82" fill="rgb(255,150,150)"/><rect x="434.60" y="253.54" width="19.90" height="8.82" fill="rgb(255,145,145)"/><rect x="336.60" y="262.06" width="19.90" height="8.82" fill="rgb(200,192,255)"/><rect x="356.20" y="262.06" width="19.90" height="8.82" fill="rgb(208,201,255)"/><rect x="375.80" y="262.06" width="19.90" height="8.82" fill="rgb(195,186,255)"/><rect x="395.40" y="262.06" width="19.90" height="8.82" fill="rgb(255,125,125)"/><rect x="415.00" y="262.06" width="19.90" height="8.82" fill="rgb(255,150,150)"/><rect x="434.60" y="262.06" width="19.90" height="8.82" fill="rgb(255,145,145)"/><rect x="336.60" y="270.58" width="19.90" height="8.82" fill="rgb(205,198,255)"/><rect x="356.20" y="270.58" width="19.90" height="8.82" fill="rgb(205,198,255)"/><rect x="375.80" y="270.58" width="19.90" height="8.82" fill="rgb(205,198,255)"/><rect x="395.40" y="270.58" width="19.90" height="8.82" fill="rgb(255,125,125)"/><rect x="415.00" y="270.58" width="19.90" height="8.82" fill="rgb(255,160,160)"/><rect x="434.60" y="270.58" width="19.90" height="8.82" fill="rgb(255,130,130)"/><rect x="336.60" y="279.10" width="19.90" height="8.82" fill="rgb(195,186,255)"/><rect x="356.20" y="279.10" width="19.90" height="8.82" fill="rgb(205,198,255)"/><rect x="375.80" y="279.10" width="19.90" height="8.82" fill="rgb(205,198,255)"/><rect x="395.40" y="279.10" width="19.90" height="8.82" fill="rgb(255,95,95)"/><rect x="415.00" y="279.10" width="19.90" height="8.82" fill="rgb(255,150,150)"/><rect x="434.60" y="279.10" width="19.90" height="8.82" fill="rgb(255,172,172)"/><rect x="336.60" y="287.62" width="19.90" height="8.82" fill="rgb(205,198,255)"/><rect x="356.20" y="287.62" width="19.90" height="8.82" fill="rgb(205,198,255)"/><rect x="375.80" y="287.62" width="19.90" height="8.82" fill="rgb(205,198,255)"/><rect x="395.40" y="287.62" width="19.90" height="8.82" fill="rgb(255,135,135)"/><rect x="415.00" y="287.62" width="19.90" height="8.82" fill="rgb(255,150,150)"/><rect x="434.60" y="287.62" width="19.90" height="8.82" fill="rgb(255,145,145)"/><rect x="336.60" y="296.14" width="19.90" height="8.82" fill="rgb(205,198,255)"/><rect x="356.20" y="296.14" width="19.90" height="8.82" fill="rgb(205,198,255)"/><rect x="375.80" y="296.14" width="19.90" height="8.82" fill="rgb(205,198,255)"/><rect x="395.40" y="296.14" width="19.90" height="8.82" fill="rgb(255,135,135)"/><rect x="415.00" y="296.14" width="19.90" height="8.82" fill="rgb(255,148,148)"/><rect x="434.60" y="296.14" width="19.90" height="8.82" fill="rgb(255,145,145)"/><rect x="336.60" y="304.66" width="19.90" height="8.82" fill="rgb(200,192,255)"/><rect x="356.20" y="304.66" width="19.90" height="8.82" fill="rgb(210,204,255)"/><rect x="375.80" y="304.66" width="19.90" height="8.82" fill="rgb(205,198,255)"/><rect x="395.40" y="304.66" width="19.90" height="8.82" fill="rgb(255,140,140)"/><rect x="415.00" y="304.66" width="19.90" height="8.82" fill="rgb(255,145,145)"/><rect x="434.60" y="304.66" width="19.90" height="8.82" fill="rgb(255,130,130)"/><rect x="336.60" y="313.18" width="19.90" height="8.82" fill="rgb(200,192,255)"/><rect x="356.20" y="313.18" width="19.90" height="8.82" fill="rgb(215,209,255)"/><rect x="375.80" y="313.18" width="19.90" height="8.82" fill="rgb(210,204,255)"/><rect x="395.40" y="313.18" width="19.90" height="8.82" fill="rgb(255,130,130)"/><rect x="415.00" y="313.18" width="19.90" height="8.82" fill="rgb(255,165,165)"/><rect x="434.60" y="313.18" width="19.90" height="8.82" fill="rgb(255,135,135)"/><rect x="336.60" y="321.70" width="19.90" height="8.82" fill="rgb(205,198,255)"/><rect x="356.20" y="321.70" width="19.90" height="8.82" fill="rgb(220,215,255)"/><rect x="375.80" y="321.70" width="19.90" height="8.82" fill="rgb(212,206,255)"/><rect x="395.40" y="321.70" width="19.90" height="8.82" fill="rgb(255,135,135)"/><rect x="415.00" y="321.70" width="19.90" height="8.82" fill="rgb(255,165,165)"/><rect x="434.60" y="321.70" width="19.90" height="8.82" fill="rgb(255,140,140)"/><rect x="336.60" y="330.22" width="19.90" height="8.82" fill="rgb(205,198,255)"/><rect x="356.20" y="330.22" width="19.90" height="8.82" fill="rgb(222,217,255)"/><rect x="375.80" y="330.22" width="19.90" height="8.82" fill="rgb(215,209,255)"/><rect x="395.40" y="330.22" width="19.90" height="8.82" fill="rgb(255,150,150)"/><rect x="415.00" y="330.22" width="19.90" height="8.82" fill="rgb(255,155,155)"/><rect x="434.60" y="330.22" width="19.90" height="8.82" fill="rgb(255,120,120)"/><rect x="336.60" y="338.74" width="19.90" height="8.82" fill="rgb(205,198,255)"/><rect x="356.20" y="338.74" width="19.90" height="8.82" fill="rgb(215,209,255)"/><rect x="375.80" y="338.74" width="19.90" height="8.82" fill="rgb(200,192,255)"/><rect x="395.40" y="338.74" width="19.90" height="8.82" fill="rgb(255,140,140)"/><rect x="415.00" y="338.74" width="19.90" height="8.82" fill="rgb(255,130,130)"/><rect x="434.60" y="338.74" width="19.90" height="8.82" fill="rgb(255,150,150)"/><rect x="336.60" y="347.26" width="19.90" height="8.82" fill="rgb(255,160,160)"/><rect x="356.20" y="347.26" width="19.90" height="8.82" fill="rgb(255,100,100)"/><rect x="375.80" y="347.26" width="19.90" height="8.82" fill="rgb(255,150,150)"/><rect x="395.40" y="347.26" width="19.90" height="8.82" fill="rgb(205,198,255)"/><rect x="415.00" y="347.26" width="19.90" height="8.82" fill="rgb(205,198,255)"/><rect x="434.60" y="347.26" width="19.90" height="8.82" fill="rgb(205,198,255)"/><rect x="336.60" y="355.78" width="19.90" height="8.82" fill="rgb(255,160,160)"/><rect x="356.20" y="355.78" width="19.90" height="8.82" fill="rgb(255,110,110)"/><rect x="375.80" y="355.78" width="19.90" height="8.82" fill="rgb(255,140,140)"/><rect x="395.40" y="355.78" width="19.90" height="8.82" fill="rgb(195,186,255)"/><rect x="415.00" y="355.78" width="19.90" height="8.82" fill="rgb(200,192,255)"/><rect x="434.60" y="355.78" width="19.90" height="8.82" fill="rgb(200,192,255)"/><rect x="336.60" y="364.30" width="19.90" height="8.82" fill="rgb(255,150,150)"/><rect x="356.20" y="364.30" width="19.90" height="8.82" fill="rgb(255,140,140)"/><rect x="375.80" y="364.30" width="19.90" height="8.82" fill="rgb(255,160,160)"/><rect x="395.40" y="364.30" width="19.90" height="8.82" fill="rgb(220,215,255)"/><rect x="415.00" y="364.30" width="19.90" height="8.82" fill="rgb(215,209,255)"/><rect x="434.60" y="364.30" width="19.90" height="8.82" fill="rgb(195,186,255)"/><rect x="336.60" y="372.82" width="19.90" height="8.82" fill="rgb(255,150,150)"/><rect x="356.20" y="372.82" width="19.90" height="8.82" fill="rgb(255,120,120)"/><rect x="375.80" y="372.82" width="19.90" height="8.82" fill="rgb(255,140,140)"/><rect x="395.40" y="372.82" width="19.90" height="8.82" fill="rgb(205,198,255)"/><rect x="415.00" y="372.82" width="19.90" height="8.82" fill="rgb(200,192,255)"/><rect x="434.60" y="372.82" width="19.90" height="8.82" fill="rgb(195,186,255)"/><rect x="336.60" y="381.34" width="19.90" height="8.82" fill="rgb(255,50,50)"/><rect x="356.20" y="381.34" width="19.90" height="8.82" fill="rgb(255,175,175)"/><rect x="375.80" y="381.34" width="19.90" height="8.82" fill="rgb(255,220,225)"/><rect x="395.40" y="381.34" width="19.90" height="8.82" fill="rgb(215,209,255)"/><rect x="415.00" y="381.34" width="19.90" height="8.82" fill="rgb(225,221,255)"/><rect x="434.60" y="381.34" width="19.90" height="8.82" fill="rgb(180,169,255)"/><rect x="336.60" y="389.86" width="19.90" height="8.82" fill="rgb(255,150,150)"/><rect x="356.20" y="389.86" width="19.90" height="8.82" fill="rgb(255,100,100)"/><rect x="375.80" y="389.86" width="19.90" height="8.82" fill="rgb(255,130,130)"/><rect x="395.40" y="389.86" width="19.90" height="8.82" fill="rgb(195,186,255)"/><rect x="415.00" y="389.86" width="19.90" height="8.82" fill="rgb(190,181,255)"/><rect x="434.60" y="389.86" width="19.90" height="8.82" fill="rgb(190,181,255)"/><rect x="336.60" y="398.38" width="19.90" height="8.82" fill="rgb(255,150,150)"/><rect x="356.20" y="398.38" width="19.90" height="8.82" fill="rgb(255,90,90)"/><rect x="375.80" y="398.38" width="19.90" height="8.82" fill="rgb(255,125,125)"/><rect x="395.40" y="398.38" width="19.90" height="8.82" fill="rgb(185,175,255)"/><rect x="415.00" y="398.38" width="19.90" height="8.82" fill="rgb(185,175,255)"/><rect x="434.60" y="398.38" width="19.90" height="8.82" fill="rgb(185,175,255)"/><rect x="336.60" y="406.90" width="19.90" height="8.82" fill="rgb(255,120,120)"/><rect x="356.20" y="406.90" width="19.90" height="8.82" fill="rgb(255,100,100)"/><rect x="375.80" y="406.90" width="19.90" height="8.82" fill="rgb(255,150,150)"/><rect x="395.40" y="406.90" width="19.90" height="8.82" fill="rgb(185,175,255)"/><rect x="415.00" y="406.90" width="19.90" height="8.82" fill="rgb(195,186,255)"/><rect x="434.60" y="406.90" width="19.90" height="8.82" fill="rgb(185,175,255)"/><rect x="336.60" y="415.42" width="19.90" height="8.82" fill="rgb(255,140,140)"/><rect x="356.20" y="415.42" width="19.90" height="8.82" fill="rgb(255,105,105)"/><rect x="375.80" y="415.42" width="19.90" height="8.82" fill="rgb(255,125,125)"/><rect x="395.40" y="415.42" width="19.90" height="8.82" fill="rgb(185,175,255)"/><rect x="415.00" y="415.42" width="19.90" height="8.82" fill="rgb(185,175,255)"/><rect x="434.60" y="415.42" width="19.90" height="8.82" fill="rgb(185,175,255)"/><rect x="336.60" y="423.94" width="19.90" height="8.82" fill="rgb(255,140,140)"/><rect x="356.20" y="423.94" width="19.90" height="8.82" fill="rgb(255,105,105)"/><rect x="375.80" y="423.94" width="19.90" height="8.82" fill="rgb(255,120,120)"/><rect x="395.40" y="423.94" width="19.90" height="8.82" fill="rgb(185,175,255)"/><rect x="415.00" y="423.94" width="19.90" height="8.82" fill="rgb(185,175,255)"/><rect x="434.60" y="423.94" width="19.90" height="8.82" fill="rgb(185,175,255)"/><rect x="336.60" y="432.46" width="19.90" height="8.82" fill="rgb(255,165,165)"/><rect x="356.20" y="432.46" width="19.90" height="8.82" fill="rgb(255,85,85)"/><rect x="375.80" y="432.46" width="19.90" height="8.82" fill="rgb(255,110,110)"/><rect x="395.40" y="432.46" width="19.90" height="8.82" fill="rgb(170,158,255)"/><rect x="415.00" y="432.46" width="19.90" height="8.82" fill="rgb(178,167,255)"/><rect x="434.60" y="432.46" width="19.90" height="8.82" fill="rgb(195,186,255)"/><rect x="336.60" y="440.98" width="19.90" height="8.82" fill="rgb(255,165,165)"/><rect x="356.20" y="440.98" width="19.90" height="8.82" fill="rgb(255,0,0)"/><rect x="375.80" y="440.98" width="19.90" height="8.82" fill="rgb(255,180,180)"/><rect x="395.40" y="440.98" width="19.90" height="8.82" fill="rgb(165,152,255)"/><rect x="415.00" y="440.98" width="19.90" height="8.82" fill="rgb(180,169,255)"/><rect x="434.60" y="440.98" width="19.90" height="8.82" fill="rgb(170,158,255)"/></g>
<rect x="336.6" y="23.5" width="117.60" height="426.00" fill="none" stroke="#000" stroke-width="1.3"/>
<text x="336.20" y="461.20" font-size="6.8" fill="#111" stroke="#111" stroke-width="0.08" textLength="110.5" lengthAdjust="spacingAndGlyphs">*gene enriched in retinoid signatures</text>
<text x="334.20" y="475.20" font-size="7.9" fill="#111" stroke="#111" stroke-width="0.08" textLength="79.2" lengthAdjust="spacingAndGlyphs">Normalized expression</text>
<defs><linearGradient id="cb" x1="0" x2="1" y1="0" y2="0"><stop offset="0" stop-color="#8f80ff"/><stop offset="0.35" stop-color="#ffffff"/><stop offset="1" stop-color="#ff0000"/></linearGradient></defs>
<rect x="337.2" y="479.2" width="71.2" height="8.5" fill="url(#cb)" stroke="#000" stroke-width="1.3"/>
<line x1="339.4" y1="487.7" x2="339.4" y2="491" stroke="#000" stroke-width="1"/>
<text x="339.40" y="499.60" font-size="8.6" text-anchor="middle" fill="#111" stroke="#111" stroke-width="0.08">0.0</text>
<line x1="369.8" y1="487.7" x2="369.8" y2="491" stroke="#000" stroke-width="1"/>
<text x="369.80" y="499.60" font-size="8.6" text-anchor="middle" fill="#111" stroke="#111" stroke-width="0.08">0.2</text>
<line x1="400.6" y1="487.7" x2="400.6" y2="491" stroke="#000" stroke-width="1"/>
<text x="400.60" y="499.60" font-size="8.6" text-anchor="middle" fill="#111" stroke="#111" stroke-width="0.08">0.4</text>
<text x="12.10" y="257.00" font-size="12.4" font-weight="bold" stroke="#000" stroke-width="0.55">C</text>
<text x="166.60" y="256.90" font-size="6.9" text-anchor="middle" fill="#111" stroke="#111" stroke-width="0.08" textLength="80.2" lengthAdjust="spacingAndGlyphs">p401 GSEA Output Ranks</text>
<g stroke="#e6e6e6" stroke-width="1">
<line x1="60.15" y1="261.0" x2="60.15" y2="438.8"/>
<line x1="83.10" y1="261.0" x2="83.10" y2="438.8"/>
<line x1="106.05" y1="261.0" x2="106.05" y2="438.8"/>
<line x1="129.00" y1="261.0" x2="129.00" y2="438.8"/>
<line x1="151.95" y1="261.0" x2="151.95" y2="438.8"/>
<line x1="174.90" y1="261.0" x2="174.90" y2="438.8"/>
<line x1="197.85" y1="261.0" x2="197.85" y2="438.8"/>
<line x1="220.80" y1="261.0" x2="220.80" y2="438.8"/>
<line x1="243.75" y1="261.0" x2="243.75" y2="438.8"/>
<line x1="266.70" y1="261.0" x2="266.70" y2="438.8"/>
<line x1="48.9" y1="431.40" x2="284.4" y2="431.40"/>
<line x1="48.9" y1="411.16" x2="284.4" y2="411.16"/>
<line x1="48.9" y1="390.92" x2="284.4" y2="390.92"/>
<line x1="48.9" y1="370.69" x2="284.4" y2="370.69"/>
<line x1="48.9" y1="350.45" x2="284.4" y2="350.45"/>
<line x1="48.9" y1="330.21" x2="284.4" y2="330.21"/>
<line x1="48.9" y1="309.97" x2="284.4" y2="309.97"/>
<line x1="48.9" y1="289.74" x2="284.4" y2="289.74"/>
<line x1="48.9" y1="269.50" x2="284.4" y2="269.50"/>
</g>
<path d="M84,426.9 C84.85,425.63 87.42,423.10 89.1,419.3 C90.78,415.50 92.63,409.58 94.1,404.1 C95.57,398.62 96.63,393.57 97.9,386.4 C99.17,379.23 100.52,369.52 101.7,361.1 C102.88,352.68 104.15,344.32 105,335.9 C105.85,327.48 106.08,319.03 106.8,310.6 C107.52,302.17 108.47,291.63 109.3,285.3 C110.13,278.97 110.95,275.22 111.8,272.6 C112.65,269.98 112.92,270.10 114.4,269.6 C115.88,269.10 119.65,269.60 120.7,269.6" fill="none" stroke="#1e1e1e" stroke-width="2.3" stroke-linecap="round"/>
<path d="M135.9,269.6 C137.58,269.60 143.90,269.10 146,269.6 C148.10,270.10 147.58,269.98 148.5,272.6 C149.42,275.22 150.45,278.97 151.5,285.3 C152.55,291.63 153.83,302.17 154.8,310.6 C155.77,319.03 156.45,327.48 157.3,335.9 C158.15,344.32 158.92,352.68 159.9,361.1 C160.88,369.52 162.15,378.82 163.2,386.4 C164.25,393.98 165.37,401.12 166.2,406.6 C167.03,412.08 167.87,417.18 168.2,419.3" fill="none" stroke="#1e1e1e" stroke-width="2.3" stroke-linecap="round"/>
<path d="M64.5,430.7 C66.70,430.70 74.45,431.33 77.7,430.7 C80.95,430.07 82.10,428.80 84,426.9 C85.90,425.00 88.25,420.57 89.1,419.3" fill="none" stroke="#cc0000" stroke-width="2.8" stroke-linecap="round"/>
<path d="M168.2,419.3 C168.72,420.77 170.37,426.20 171.3,428.1 C172.23,430.00 173.38,430.27 173.8,430.7" fill="none" stroke="#cc0000" stroke-width="2.8" stroke-linecap="round"/>
<g fill="#cc0000"><circle cx="57.6" cy="430.7" r="1.5"/><circle cx="59.8" cy="430.7" r="1.5"/><circle cx="62.2" cy="430.7" r="1.5"/><circle cx="176.2" cy="430.7" r="1.5"/><circle cx="178.4" cy="430.7" r="1.5"/><circle cx="181.9" cy="430.7" r="1.5"/></g>
<line x1="172.5" y1="430" x2="191.2" y2="332.6" stroke="#000" stroke-width="1.25"/>
<line x1="172.5" y1="430" x2="192.2" y2="405.2" stroke="#000" stroke-width="1.25"/>
<rect x="190.8" y="301.8" width="74.6" height="30.8" fill="#fff" stroke="#000" stroke-width="1.2"/>
<text x="195.30" y="311.60" font-size="7.1" fill="#1a1a1a" stroke="#1a1a1a" stroke-width="0.04" textLength="61.4" lengthAdjust="spacingAndGlyphs">PARK_TRETINOIN_</text>
<text x="195.30" y="319.70" font-size="7.1" fill="#1a1a1a" stroke="#1a1a1a" stroke-width="0.04" textLength="59.4" lengthAdjust="spacingAndGlyphs">RESPONSE_AND_</text>
<text x="195.30" y="327.90" font-size="7.1" fill="#1a1a1a" stroke="#1a1a1a" stroke-width="0.04" textLength="65.6" lengthAdjust="spacingAndGlyphs">PML_RARA_FUSION</text>
<rect x="191.4" y="382.2" width="85.6" height="23.3" fill="#fff" stroke="#000" stroke-width="1.2"/>
<text x="196.30" y="392.50" font-size="7.1" fill="#1a1a1a" stroke="#1a1a1a" stroke-width="0.04" textLength="75.6" lengthAdjust="spacingAndGlyphs">MARTENS_TRETINOIN_</text>
<text x="196.30" y="400.40" font-size="7.1" fill="#1a1a1a" stroke="#1a1a1a" stroke-width="0.04" textLength="50.8" lengthAdjust="spacingAndGlyphs">RESPONSE_UP</text>
<rect x="48.9" y="261.0" width="235.50" height="177.80" fill="none" stroke="#000" stroke-width="1.3"/>
<line x1="44.6" y1="269.50" x2="48.9" y2="269.50" stroke="#000" stroke-width="1.35"/>
<text x="42.00" y="272.60" font-size="8.6" text-anchor="end" fill="#111" stroke="#111" stroke-width="0.08">1.00</text>
<line x1="44.6" y1="309.97" x2="48.9" y2="309.97" stroke="#000" stroke-width="1.35"/>
<text x="42.00" y="313.07" font-size="8.6" text-anchor="end" fill="#111" stroke="#111" stroke-width="0.08">0.75</text>
<line x1="44.6" y1="350.45" x2="48.9" y2="350.45" stroke="#000" stroke-width="1.35"/>
<text x="42.00" y="353.55" font-size="8.6" text-anchor="end" fill="#111" stroke="#111" stroke-width="0.08">0.50</text>
<line x1="44.6" y1="390.92" x2="48.9" y2="390.92" stroke="#000" stroke-width="1.35"/>
<text x="42.00" y="394.02" font-size="8.6" text-anchor="end" fill="#111" stroke="#111" stroke-width="0.08">0.25</text>
<line x1="44.6" y1="431.40" x2="48.9" y2="431.40" stroke="#000" stroke-width="1.35"/>
<text x="42.00" y="434.50" font-size="8.6" text-anchor="end" fill="#111" stroke="#111" stroke-width="0.08">0.00</text>
<line x1="83.10" y1="438.8" x2="83.10" y2="442.1" stroke="#000" stroke-width="1.35"/>
<text x="83.10" y="451.40" font-size="8.6" text-anchor="middle" fill="#111" stroke="#111" stroke-width="0.08">−2</text>
<line x1="129.00" y1="438.8" x2="129.00" y2="442.1" stroke="#000" stroke-width="1.35"/>
<text x="129.00" y="451.40" font-size="8.6" text-anchor="middle" fill="#111" stroke="#111" stroke-width="0.08">0</text>
<line x1="174.90" y1="438.8" x2="174.90" y2="442.1" stroke="#000" stroke-width="1.35"/>
<text x="174.90" y="451.40" font-size="8.6" text-anchor="middle" fill="#111" stroke="#111" stroke-width="0.08">2</text>
<text x="129.20" y="463.70" font-size="10.4" text-anchor="middle" fill="#111" stroke="#111" stroke-width="0.25" textLength="12.9" lengthAdjust="spacingAndGlyphs">NES</text>
<text transform="translate(21.3,350.4) rotate(-90)" x="0" y="0" font-size="10.4" text-anchor="middle" fill="#111" stroke="#111" stroke-width="0.22" textLength="13" lengthAdjust="spacingAndGlyphs">FDR</text>
<text x="12.30" y="487.00" font-size="12.4" font-weight="bold" stroke="#000" stroke-width="0.55">D</text>
<text x="167.70" y="487.00" font-size="8.6" text-anchor="middle" fill="#111" stroke="#111" stroke-width="0.08" textLength="147.2" lengthAdjust="spacingAndGlyphs">MARTENS_TRETINOIN_RESPONSE_UP</text>
<g stroke="#e2e2e2" stroke-width="0.8" stroke-dasharray="1 1.4">
<line x1="96.7" y1="490.4" x2="96.7" y2="588.4"/>
<line x1="96.7" y1="628.9" x2="96.7" y2="694.5"/>
<line x1="143.2" y1="490.4" x2="143.2" y2="588.4"/>
<line x1="143.2" y1="628.9" x2="143.2" y2="694.5"/>
<line x1="189.5" y1="490.4" x2="189.5" y2="588.4"/>
<line x1="189.5" y1="628.9" x2="189.5" y2="694.5"/>
<line x1="236.5" y1="490.4" x2="236.5" y2="588.4"/>
<line x1="236.5" y1="628.9" x2="236.5" y2="694.5"/>
<line x1="283.0" y1="490.4" x2="283.0" y2="588.4"/>
<line x1="283.0" y1="628.9" x2="283.0" y2="694.5"/>
<line x1="49.9" y1="583.7" x2="285.4" y2="583.7"/>
<line x1="49.9" y1="557.1" x2="285.4" y2="557.1"/>
<line x1="49.9" y1="543.8" x2="285.4" y2="543.8"/>
<line x1="49.9" y1="530.5" x2="285.4" y2="530.5"/>
<line x1="49.9" y1="517.2" x2="285.4" y2="517.2"/>
<line x1="49.9" y1="503.9" x2="285.4" y2="503.9"/>
<line x1="49.9" y1="490.6" x2="285.4" y2="490.6"/>
<line x1="49.9" y1="647.2" x2="285.4" y2="647.2"/>
<line x1="49.9" y1="676.5" x2="285.4" y2="676.5"/>
<line x1="49.9" y1="691" x2="285.4" y2="691"/>
</g>
<line x1="49.9" y1="570.4" x2="285.4" y2="570.4" stroke="#808080" stroke-width="0.9"/>
<polyline fill="none" stroke="#5ee60c" stroke-width="1.7" stroke-linejoin="round" points="49.8,570 50.2,548 50.7,538 51.7,530 52.8,524.5 54.25,516.8 55.7,507.2 57.6,502.4 60.5,500.5 62.4,497.6 65.3,495.5 68.5,495.8 71.1,496.3 74,497.0 76.8,496.2 80.7,495.7 84.5,497.1 88.4,499.5 93.2,501 99.6,503.5 109.2,507.7 115,509.2 123.7,513.1 130.4,515.4 138.1,519.8 147.7,523.7 157.3,529.4 166.9,534.2 176.5,539 186,544.4 196,550 206,556 216,562 226,568 232,571 240,575 246,577 254,579.6 260,581.6 265,584 266.5,582.6 268,582.4 268.6,581 271,580.8 271.5,579.3 272.8,579 273.2,575 274,570.3"/>
<line x1="49.9" y1="588.4" x2="285.4" y2="588.4" stroke="#b0b0b0" stroke-width="1"/>
<line x1="49.9" y1="621.2" x2="285.4" y2="621.2" stroke="#b0b0b0" stroke-width="0.8"/>
<line x1="49.9" y1="628.9" x2="285.4" y2="628.9" stroke="#b0b0b0" stroke-width="0.8"/>
<g shape-rendering="crispEdges"><rect x="49.0" y="588.9" width="3.60" height="32.30" fill="rgb(0,6,6)"/><rect x="52.6" y="588.9" width="1.20" height="32.30" fill="rgb(119,125,125)"/><rect x="53.8" y="588.9" width="5.00" height="32.30" fill="rgb(0,6,6)"/><rect x="58.8" y="588.9" width="1.10" height="32.30" fill="rgb(204,210,210)"/><rect x="59.9" y="588.9" width="4.60" height="32.30" fill="rgb(0,6,6)"/><rect x="64.5" y="588.9" width="0.80" height="32.30" fill="rgb(187,193,193)"/><rect x="65.3" y="588.9" width="3.10" height="32.30" fill="rgb(102,108,108)"/><rect x="68.4" y="588.9" width="2.70" height="32.30" fill="rgb(51,57,57)"/><rect x="72.2" y="588.9" width="5.80" height="32.30" fill="rgb(140,146,146)"/><rect x="78.0" y="588.9" width="0.80" height="32.30" fill="rgb(51,57,57)"/><rect x="78.8" y="588.9" width="2.30" height="32.30" fill="rgb(96,102,102)"/><rect x="82.2" y="588.9" width="1.60" height="32.30" fill="rgb(153,159,159)"/><rect x="84.5" y="588.9" width="1.60" height="32.30" fill="rgb(102,108,108)"/><rect x="86.1" y="588.9" width="0.40" height="32.30" fill="rgb(153,159,159)"/><rect x="86.5" y="588.9" width="1.20" height="32.30" fill="rgb(102,108,108)"/><rect x="88.8" y="588.9" width="3.10" height="32.30" fill="rgb(144,150,150)"/><rect x="91.9" y="588.9" width="1.20" height="32.30" fill="rgb(0,6,6)"/><rect x="93.1" y="588.9" width="1.50" height="32.30" fill="rgb(85,91,91)"/><rect x="94.6" y="588.9" width="0.80" height="32.30" fill="rgb(238,244,244)"/><rect x="95.4" y="588.9" width="4.60" height="32.30" fill="rgb(128,134,134)"/><rect x="100.8" y="588.9" width="2.30" height="32.30" fill="rgb(119,125,125)"/><rect x="103.1" y="588.9" width="1.10" height="32.30" fill="rgb(170,176,176)"/><rect x="104.2" y="588.9" width="1.60" height="32.30" fill="rgb(102,108,108)"/><rect x="105.8" y="588.9" width="1.50" height="32.30" fill="rgb(136,142,142)"/><rect x="107.3" y="588.9" width="1.50" height="32.30" fill="rgb(102,108,108)"/><rect x="108.8" y="588.9" width="1.60" height="32.30" fill="rgb(0,6,6)"/><rect x="111.5" y="588.9" width="2.70" height="32.30" fill="rgb(119,125,125)"/><rect x="115.8" y="588.9" width="4.60" height="32.30" fill="rgb(132,138,138)"/><rect x="120.4" y="588.9" width="2.30" height="32.30" fill="rgb(102,108,108)"/><rect x="122.7" y="588.9" width="0.80" height="32.30" fill="rgb(96,102,102)"/><rect x="123.5" y="588.9" width="2.70" height="32.30" fill="rgb(0,6,6)"/><rect x="127.8" y="588.9" width="1.10" height="32.30" fill="rgb(136,142,142)"/><rect x="131.2" y="588.9" width="1.60" height="32.30" fill="rgb(136,142,142)"/><rect x="137.4" y="588.9" width="1.10" height="32.30" fill="rgb(85,91,91)"/><rect x="138.5" y="588.9" width="1.20" height="32.30" fill="rgb(153,159,159)"/><rect x="139.7" y="588.9" width="2.30" height="32.30" fill="rgb(34,40,40)"/><rect x="144.7" y="588.9" width="1.90" height="32.30" fill="rgb(51,57,57)"/><rect x="146.6" y="588.9" width="1.90" height="32.30" fill="rgb(136,142,142)"/><rect x="148.5" y="588.9" width="1.20" height="32.30" fill="rgb(68,74,74)"/><rect x="149.7" y="588.9" width="1.50" height="32.30" fill="rgb(187,193,193)"/><rect x="158.2" y="588.9" width="1.50" height="32.30" fill="rgb(0,6,6)"/><rect x="159.7" y="588.9" width="1.50" height="32.30" fill="rgb(119,125,125)"/><rect x="161.2" y="588.9" width="0.70" height="32.30" fill="rgb(170,176,176)"/><rect x="161.9" y="588.9" width="1.90" height="32.30" fill="rgb(119,125,125)"/><rect x="163.8" y="588.9" width="1.20" height="32.30" fill="rgb(221,227,227)"/><rect x="165" y="588.9" width="2.30" height="32.30" fill="rgb(136,142,142)"/><rect x="167.3" y="588.9" width="1.20" height="32.30" fill="rgb(51,57,57)"/><rect x="169.2" y="588.9" width="2.00" height="32.30" fill="rgb(102,108,108)"/><rect x="171.2" y="588.9" width="2.30" height="32.30" fill="rgb(136,142,142)"/><rect x="173.5" y="588.9" width="1.50" height="32.30" fill="rgb(0,6,6)"/><rect x="176.2" y="588.9" width="1.90" height="32.30" fill="rgb(85,91,91)"/><rect x="178.1" y="588.9" width="0.70" height="32.30" fill="rgb(153,159,159)"/><rect x="182.3" y="588.9" width="0.80" height="32.30" fill="rgb(85,91,91)"/><rect x="183.1" y="588.9" width="1.10" height="32.30" fill="rgb(170,176,176)"/><rect x="184.2" y="588.9" width="3.50" height="32.30" fill="rgb(76,82,82)"/><rect x="187.7" y="588.9" width="1.50" height="32.30" fill="rgb(153,159,159)"/><rect x="191.5" y="588.9" width="1.60" height="32.30" fill="rgb(136,142,142)"/><rect x="193.1" y="588.9" width="1.10" height="32.30" fill="rgb(0,6,6)"/><rect x="194.2" y="588.9" width="0.80" height="32.30" fill="rgb(153,159,159)"/><rect x="195" y="588.9" width="1.20" height="32.30" fill="rgb(102,108,108)"/><rect x="205.7" y="588.9" width="2.30" height="32.30" fill="rgb(136,142,142)"/><rect x="213.8" y="588.9" width="1.50" height="32.30" fill="rgb(34,40,40)"/><rect x="216.8" y="588.9" width="1.60" height="32.30" fill="rgb(51,57,57)"/><rect x="228" y="588.9" width="3.00" height="32.30" fill="rgb(102,108,108)"/><rect x="233.8" y="588.9" width="2.30" height="32.30" fill="rgb(51,57,57)"/><rect x="236.1" y="588.9" width="1.80" height="32.30" fill="rgb(170,176,176)"/><rect x="237.9" y="588.9" width="1.20" height="32.30" fill="rgb(85,91,91)"/><rect x="241.8" y="588.9" width="1.90" height="32.30" fill="rgb(0,6,6)"/><rect x="243.7" y="588.9" width="1.90" height="32.30" fill="rgb(85,91,91)"/><rect x="245.6" y="588.9" width="0.80" height="32.30" fill="rgb(136,142,142)"/><rect x="246.4" y="588.9" width="4.60" height="32.30" fill="rgb(102,108,108)"/><rect x="253.7" y="588.9" width="1.50" height="32.30" fill="rgb(136,142,142)"/><rect x="255.2" y="588.9" width="1.60" height="32.30" fill="rgb(153,159,159)"/><rect x="256.8" y="588.9" width="2.30" height="32.30" fill="rgb(34,40,40)"/><rect x="262.2" y="588.9" width="1.10" height="32.30" fill="rgb(85,91,91)"/><rect x="265.2" y="588.9" width="2.30" height="32.30" fill="rgb(0,6,6)"/><rect x="267.5" y="588.9" width="1.20" height="32.30" fill="rgb(102,108,108)"/><rect x="268.7" y="588.9" width="2.30" height="32.30" fill="rgb(51,57,57)"/><rect x="271" y="588.9" width="1.20" height="32.30" fill="rgb(221,227,227)"/><rect x="272.2" y="588.9" width="1.90" height="32.30" fill="rgb(0,6,6)"/></g>
<defs><linearGradient id="rk" x1="0" x2="1" y1="0" y2="0"><stop offset="0" stop-color="#c0000c"/><stop offset="0.03" stop-color="#d80010"/><stop offset="0.07" stop-color="#e80020"/><stop offset="0.073" stop-color="#ff0a30"/><stop offset="0.222" stop-color="#ff1040"/><stop offset="0.225" stop-color="#ff2a78"/><stop offset="0.345" stop-color="#ff2c80"/><stop offset="0.35" stop-color="#ff4096"/><stop offset="0.495" stop-color="#ff58b0"/><stop offset="0.5" stop-color="#f890f0"/><stop offset="0.645" stop-color="#f088f0"/><stop offset="0.65" stop-color="#dcd4fa"/><stop offset="0.75" stop-color="#d8d0f8"/><stop offset="0.755" stop-color="#c8bcf4"/><stop offset="0.83" stop-color="#c4b4f4"/><stop offset="0.835" stop-color="#6464ff"/><stop offset="0.885" stop-color="#5050ff"/><stop offset="0.89" stop-color="#2424f0"/><stop offset="1" stop-color="#2020e8"/></linearGradient></defs>
<rect x="49.9" y="621.2" width="223.90" height="7.70" fill="url(#rk)"/>
<polygon fill="#bfc6b6" points="50.2,662.6 50.2,633.4 51.8,643.4 54.2,649.5 58.8,653.4 66.5,656.2 78.8,657 94.2,658 109.5,658.8 128,660 150,661.4 161,662.2 161,662.6"/>
<polygon fill="#bfc6b6" points="230,662.6 230.8,663.5 257.7,665 265.8,667 269.8,672 272.5,680 274.4,691 274.4,662.6"/>
<line x1="196.6" y1="629" x2="196.6" y2="683.5" stroke="#333" stroke-width="0.8" stroke-dasharray="1.6 1.2"/>
<line x1="196.6" y1="629" x2="196.6" y2="632" stroke="#333" stroke-width="0.8"/>
<text x="161.30" y="664.20" font-size="8.3" fill="#111" stroke="#111" stroke-width="0.08" textLength="68.9" lengthAdjust="spacingAndGlyphs">Zero cross at 7856</text>
<text x="55.50" y="641.80" font-size="9.6" fill="#d42020" stroke="#d42020" stroke-width="0.08" textLength="19.2" lengthAdjust="spacingAndGlyphs">Tami</text>
<text x="240.40" y="688.60" font-size="9.4" fill="#2a3ee6" stroke="#2a3ee6" stroke-width="0.08" textLength="28.2" lengthAdjust="spacingAndGlyphs">DMSO</text>
<rect x="49.9" y="490.4" width="235.50" height="204.10" fill="none" stroke="#000" stroke-width="1.4"/>
<line x1="46.3" y1="503.8" x2="49.9" y2="503.8" stroke="#000" stroke-width="1.35"/>
<text x="42.40" y="506.00" font-size="8.5" text-anchor="end" fill="#111" stroke="#111" stroke-width="0.08">0.50</text>
<line x1="46.3" y1="537.1" x2="49.9" y2="537.1" stroke="#000" stroke-width="1.35"/>
<text x="42.40" y="539.30" font-size="8.5" text-anchor="end" fill="#111" stroke="#111" stroke-width="0.08">0.25</text>
<line x1="46.3" y1="570.4" x2="49.9" y2="570.4" stroke="#000" stroke-width="1.35"/>
<text x="42.40" y="572.60" font-size="8.5" text-anchor="end" fill="#111" stroke="#111" stroke-width="0.08">0.00</text>
<line x1="46.3" y1="632.6" x2="49.9" y2="632.6" stroke="#000" stroke-width="1.35"/>
<text x="43.30" y="634.85" font-size="8.5" text-anchor="end" fill="#111" stroke="#111" stroke-width="0.08">5.0</text>
<line x1="46.3" y1="662.4" x2="49.9" y2="662.4" stroke="#000" stroke-width="1.35"/>
<text x="43.30" y="664.60" font-size="8.5" text-anchor="end" fill="#111" stroke="#111" stroke-width="0.08">0.0</text>
<line x1="46.3" y1="692.1" x2="49.9" y2="692.1" stroke="#000" stroke-width="1.35"/>
<text x="43.30" y="694.35" font-size="8.5" text-anchor="end" fill="#111" stroke="#111" stroke-width="0.08">−5.0</text>
<text transform="translate(20.9,537.4) rotate(-90)" x="0" y="0" font-size="9.8" text-anchor="middle" fill="#111" stroke="#111" stroke-width="0.22" textLength="57" lengthAdjust="spacingAndGlyphs">Enrichment score</text>
<text transform="translate(14.9,660.3) rotate(-90)" x="0" y="0" font-size="9.9" text-anchor="middle" fill="#111" stroke="#111" stroke-width="0.22" textLength="35.4" lengthAdjust="spacingAndGlyphs">Ranked list</text>
<text transform="translate(25.2,660.6) rotate(-90)" x="0" y="0" font-size="9.9" text-anchor="middle" fill="#111" stroke="#111" stroke-width="0.22" textLength="40.4" lengthAdjust="spacingAndGlyphs">Signal2Noise</text>
<text x="50.40" y="705.40" font-size="9" fill="#111" stroke="#111" stroke-width="0.08" textLength="41.8" lengthAdjust="spacingAndGlyphs">NES: 2.00</text>
<text x="249.60" y="705.60" font-size="9" fill="#111" stroke="#111" stroke-width="0.08" textLength="46.8" lengthAdjust="spacingAndGlyphs">FDR: 0.003</text>
<rect x="0.6" y="0.6" width="518.6" height="710.6" fill="none" stroke="#000" stroke-width="1.6"/></svg>
</body></html>
